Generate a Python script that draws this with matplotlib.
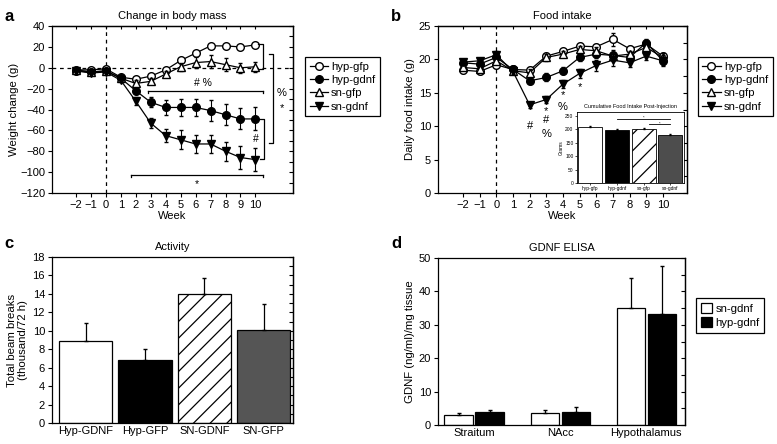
import matplotlib.pyplot as plt
import numpy as np

plt.rcParams['font.family'] = ['Liberation Sans', 'DejaVu Sans']
plt.rcParams['font.size'] = 8
plt.rcParams['axes.linewidth'] = 0.9
plt.rcParams['hatch.linewidth'] = 0.9

# ---- data ----
weeks = [-2, -1, 0, 1, 2, 3, 4, 5, 6, 7, 8, 9, 10]
groups = ['hyp-gfp', 'hyp-gdnf', 'sn-gfp', 'sn-gdnf']

# a: change in body mass (g)
mass_mean = {
    'hyp-gfp': [-2, -2, -1, -9, -11, -8, -2, 7, 14, 21, 21, 20, 22],
    'hyp-gdnf': [-3, -4, -3, -10, -22, -33, -38, -38, -38, -41, -45, -49, -49],
    'sn-gfp': [-2, -4, -3, -10, -15, -13, -6, 1, 5, 6, 3, 0, 1],
    'sn-gdnf': [-3, -5, -4, -12, -32, -53, -65, -69, -73, -73, -80, -86, -88],
}
mass_err = {
    'hyp-gfp': [1, 1, 1, 2, 2, 2, 2, 2, 2, 2, 2, 2, 2],
    'hyp-gdnf': [1, 1, 1, 1, 3, 5, 7, 8, 8, 10, 10, 10, 11],
    'sn-gfp': [1, 1, 1, 2, 3, 3, 3, 4, 5, 6, 6, 5, 5],
    'sn-gdnf': [1, 1, 1, 2, 4, 5, 6, 9, 9, 9, 9, 11, 11],
}

# b: daily food intake (g)
food_mean = {
    'hyp-gfp': [18.4, 18.2, 19.2, 18.5, 18.4, 20.5, 21.2, 22.0, 21.9, 23.0, 21.6, 22.3, 20.5],
    'hyp-gdnf': [19.5, 19.3, 20.3, 18.5, 16.8, 17.3, 18.3, 20.3, 20.8, 20.6, 20.3, 22.5, 19.8],
    'sn-gfp': [18.8, 18.6, 19.8, 18.3, 18.0, 20.3, 20.8, 21.5, 21.3, 20.5, 20.8, 21.8, 20.3],
    'sn-gdnf': [19.6, 19.8, 20.7, 18.2, 13.2, 14.0, 16.3, 17.9, 19.1, 19.9, 19.5, 20.5, 19.8],
}
food_err = {
    'hyp-gfp': [0.4, 0.4, 0.5, 0.4, 0.4, 0.4, 0.4, 0.4, 0.4, 1.0, 0.4, 0.4, 0.5],
    'hyp-gdnf': [0.4, 0.4, 0.5, 0.4, 0.5, 0.6, 0.5, 0.6, 0.6, 0.8, 0.6, 0.5, 0.6],
    'sn-gfp': [0.4, 0.4, 0.5, 0.4, 0.5, 0.5, 0.5, 0.5, 0.5, 0.6, 0.5, 0.5, 0.6],
    'sn-gdnf': [0.4, 0.4, 0.5, 0.4, 0.5, 0.5, 0.6, 0.7, 0.8, 0.9, 0.6, 0.6, 0.8],
}
food_stars = [(2, 12.6, '*'), (2, 10.0, '#'), (3, 12.3, '*'), (3, 10.9, '#'),
              (3, 8.9, '%'), (4, 14.6, '*'), (4, 12.9, '%'), (5, 15.8, '*')]

# b inset: cumulative food intake post-injection (g)
cum_food = [208, 197, 201, 179]
cum_food_err = [3, 3, 3, 3]

# c: activity
activity_labels = ['Hyp-GDNF', 'Hyp-GFP', 'SN-GDNF', 'SN-GFP']
activity = [8.9, 6.85, 14.0, 10.1]
activity_err = [1.9, 1.15, 1.7, 2.85]

# d: GDNF ELISA
regions = ['Straitum', 'NAcc', 'Hypothalamus']
elisa_sn = [3.0, 3.6, 35.0]
elisa_sn_err = [0.7, 1.0, 9.0]
elisa_hyp = [3.8, 3.9, 33.2]
elisa_hyp_err = [0.7, 1.4, 14.5]

styles = {
    'hyp-gfp': dict(marker='o', mfc='white'),
    'hyp-gdnf': dict(marker='o', mfc='black'),
    'sn-gfp': dict(marker='^', mfc='white'),
    'sn-gdnf': dict(marker='v', mfc='black'),
}

fig = plt.figure(figsize=(7.77, 4.44), dpi=100)


def right_ticks(ax, ticks, top=None):
    sec = ax.secondary_yaxis('right')
    sec.set_yticks(ticks)
    sec.tick_params(direction='in', length=3, labelright=False, width=0.8)
    if top is not None:
        sx = ax.secondary_xaxis('top')
        sx.set_xticks(top)
        sx.tick_params(direction='in', length=2.5, labeltop=False, width=0.8)
    ax.tick_params(width=0.8, length=3, pad=2)


def line_panel(ax, mean, err):
    for g in groups:
        ax.errorbar(weeks, mean[g], yerr=err[g], fmt='none', ecolor='black',
                    elinewidth=0.8, capsize=1.5)
        ax.plot(weeks, mean[g], color='black', lw=0.9, mec='black', ms=5.5,
                label=g, **styles[g])


def box_legend(ax, anchor, **kw):
    leg = ax.legend(loc='upper left', bbox_to_anchor=anchor,
                    bbox_transform=fig.transFigure, borderaxespad=0,
                    fancybox=False, edgecolor='black', framealpha=1,
                    handletextpad=0.3, labelspacing=0.3, borderpad=0.4,
                    fontsize=8.2, **kw)
    leg.get_frame().set_linewidth(0.9)


# ---- a ----
ax_a = fig.add_axes([0.0669, 0.5653, 0.310, 0.376])
ax_a.axhline(0, color='black', ls=(0, (3, 3)), lw=0.9)
ax_a.axvline(0, color='black', ls=(0, (3, 3)), lw=0.9)
line_panel(ax_a, mass_mean, mass_err)
ax_a.set_xlim(-3.6, 12.5)
ax_a.set_ylim(-120, 40)
ax_a.set_xticks(weeks)
ax_a.set_yticks(range(-120, 41, 20))
right_ticks(ax_a, range(-120, 41, 10), top=weeks)
ax_a.set_xlabel('Week', labelpad=1)
ax_a.set_ylabel('Weight change (g)', fontsize=8.2, labelpad=1)
ax_a.set_title('Change in body mass', fontsize=8, pad=5)
# significance marks
ax_a.plot([2.8, 10.5], [-22.3, -22.3], color='black', lw=0.9)
ax_a.plot([2.8, 2.8], [-22.3, -24.5], color='black', lw=0.9)
ax_a.plot([10.5, 10.5], [-22.3, -24.5], color='black', lw=0.9)
ax_a.text(6.5, -14.5, '# %', ha='center', va='center', fontsize=7.5)
ax_a.plot([1.7, 10.5], [-102.7, -102.7], color='black', lw=0.9)
ax_a.plot([1.7, 1.7], [-102.7, -104.5], color='black', lw=0.9)
ax_a.plot([10.5, 10.5], [-102.7, -104.5], color='black', lw=0.9)
ax_a.text(6.1, -111, '*', ha='center', va='center', fontsize=7.5)
for x, y0, y1 in [(10.5, 22.8, -1.2), (10.6, -49, -87.4), (11.2, 13.2, -72)]:
    ax_a.plot([x - 0.3, x, x, x - 0.3], [y0, y0, y1, y1], color='black', lw=0.9)
ax_a.text(10.05, -68, '#', ha='center', va='center', fontsize=7.5)
ax_a.text(11.75, -24, '%', ha='center', va='center', fontsize=8)
ax_a.text(11.75, -39, '*', ha='center', va='center', fontsize=8)
box_legend(ax_a, (0.3925, 0.8716), handlelength=1.6)

# ---- b ----
ax_b = fig.add_axes([0.5637, 0.5653, 0.3205, 0.376])
ax_b.axvline(0, color='black', ls=(0, (3, 3)), lw=0.9)
line_panel(ax_b, food_mean, food_err)
for x, y, s in food_stars:
    ax_b.text(x, y, s, ha='center', va='center', fontsize=8)
ax_b.set_xlim(-3.5, 11.45)
ax_b.set_ylim(0, 25)
ax_b.set_xticks(weeks)
ax_b.set_yticks(range(0, 26, 5))
right_ticks(ax_b, np.arange(0, 25.1, 2.5), top=weeks)
ax_b.set_xlabel('Week', labelpad=1)
ax_b.set_ylabel('Daily food intake (g)', fontsize=8.2, labelpad=3)
ax_b.set_title('Food intake', fontsize=8, pad=5)
box_legend(ax_b, (0.898, 0.8716), handlelength=1.6)

# inset
ax_in = fig.add_axes([0.7426, 0.5878, 0.1377, 0.160])
pos = np.arange(4)
ax_in.bar(pos, cum_food, width=0.9, color=['white', 'black', 'white', '#4d4d4d'],
          edgecolor='black', lw=0.6, hatch=[None, None, '//', None])
ax_in.errorbar(pos, cum_food, yerr=[[0] * 4, cum_food_err], fmt='none',
               ecolor='black', elinewidth=0.5, capsize=1)
ax_in.plot([1, 3], [239, 239], color='black', lw=0.6)
ax_in.plot([2.2, 3], [220, 220], color='black', lw=0.6)
ax_in.text(2, 242, '*', ha='center', va='center', fontsize=3)
ax_in.text(2.6, 223, '*', ha='center', va='center', fontsize=3)
ax_in.set_xlim(-0.5, 3.52)
ax_in.set_ylim(0, 265)
ax_in.set_yticks(range(0, 251, 50))
ax_in.set_xticks(pos)
ax_in.set_xticklabels(groups)
ax_in.tick_params(labelsize=3.5, length=1.5, width=0.5, pad=1)
ax_in.set_ylabel('Grams', fontsize=3.5, labelpad=1)
ax_in.set_title('Cumulative Food Intake Post-Injection', fontsize=4, pad=3)
for sp in ax_in.spines.values():
    sp.set_linewidth(0.6)

# ---- c ----
ax_c = fig.add_axes([0.0669, 0.0473, 0.310, 0.374])
pos = np.arange(4)
ax_c.bar(pos, activity, width=0.9, color=['white', 'black', 'white', '#555555'],
         edgecolor='black', lw=0.9, hatch=[None, None, '//', None])
ax_c.errorbar(pos, activity, yerr=[[0] * 4, activity_err], fmt='none',
              ecolor='black', elinewidth=0.9, capsize=1.5)
ax_c.set_xlim(-0.57, 3.49)
ax_c.set_ylim(0, 18)
ax_c.set_yticks(range(0, 19, 2))
right_ticks(ax_c, range(0, 19, 1))
ax_c.set_xticks(pos)
ax_c.set_xticklabels(activity_labels)
ax_c.tick_params(axis='x', length=0)
ax_c.set_ylabel('Total beam breaks\n(thousand/72 h)', fontsize=8.2, labelpad=3)
ax_c.set_title('Activity', fontsize=8, pad=5)

# ---- d ----
ax_d = fig.add_axes([0.5637, 0.0428, 0.318, 0.376])
pos = np.arange(3)
w = 0.33
ax_d.bar(pos - 0.18, elisa_sn, width=w, color='white', edgecolor='black',
         lw=0.9, label='sn-gdnf')
ax_d.bar(pos + 0.18, elisa_hyp, width=w, color='black', edgecolor='black',
         lw=0.9, label='hyp-gdnf')
ax_d.errorbar(pos - 0.18, elisa_sn, yerr=[[0] * 3, elisa_sn_err], fmt='none',
              ecolor='black', elinewidth=0.9, capsize=1.5)
ax_d.errorbar(pos + 0.18, elisa_hyp, yerr=[[0] * 3, elisa_hyp_err], fmt='none',
              ecolor='black', elinewidth=0.9, capsize=1.5)
ax_d.set_xlim(-0.42, 2.45)
ax_d.set_ylim(0, 50)
ax_d.set_yticks(range(0, 51, 10))
right_ticks(ax_d, range(0, 51, 5))
ax_d.set_xticks(pos)
ax_d.set_xticklabels(regions)
ax_d.tick_params(axis='x', length=0)
ax_d.set_ylabel('GDNF (ng/ml)/mg tissue', fontsize=8.2, labelpad=3)
ax_d.set_title('GDNF ELISA', fontsize=8, pad=5)
box_legend(ax_d, (0.8958, 0.3288), handlelength=1.0, handleheight=1.0)

# panel letters
for x, y, s in [(0.006, 0.962, 'a'), (0.503, 0.962, 'b'),
                (0.006, 0.452, 'c'), (0.504, 0.452, 'd')]:
    fig.text(x, y, s, fontsize=12, fontweight='bold', va='center')

fig.savefig('out.png', dpi=100)
